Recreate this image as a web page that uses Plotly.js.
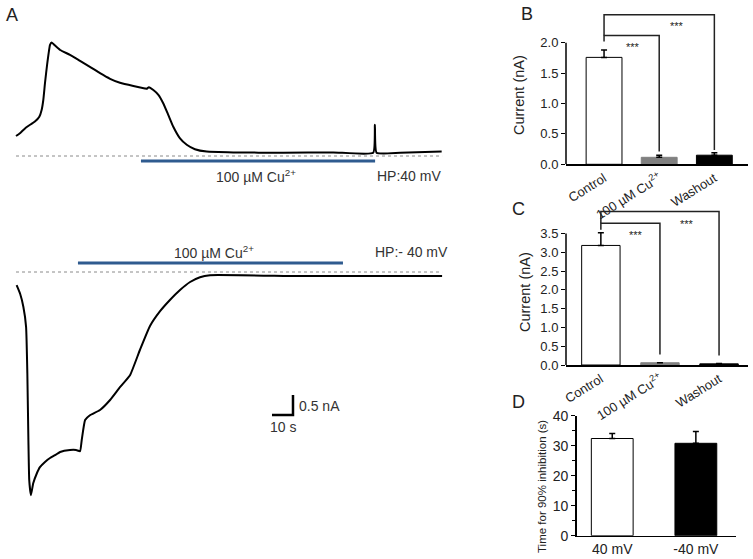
<!DOCTYPE html>
<html><head><meta charset="utf-8">
<script src="https://cdn.plot.ly/plotly-3.0.1.min.js"></script>
<style>html,body{margin:0;padding:0;background:#fff}#chart{width:753px;height:559px}</style>
</head><body><div id="chart"></div>
<script>
// ---------- Panel A: current traces (time in s, current in nA) ----------
const timeHP40 = [0,1.9,4.3,6.7,9.0,11.1,12.2,13.0,13.8,14.9,16.2,17.0,18.6,21.0,25.7,30.5,35.2,40.0,44.8,49.5,55.9,61.4,62.2,63.3,65.4,67.8,70.1,72.5,74.9,78.1,81.3,85.2,90.8,103.5,127.3,151.1,170.1,170.9,171.7,182.9,202.7];
const currentHP40 = [0.50,0.57,0.69,0.78,0.86,0.98,1.15,1.40,1.82,2.32,2.78,2.84,2.76,2.65,2.53,2.38,2.23,2.07,1.93,1.83,1.75,1.69,1.68,1.72,1.65,1.53,1.32,1.03,0.73,0.44,0.28,0.17,0.11,0.09,0.08,0.09,0.08,0.78,0.08,0.08,0.11];

const timeHPm40 = [0.3,2.0,3.5,4.8,5.4,5.9,6.3,7.1,8.2,9.8,11.4,13.8,16.2,18.6,21.0,25.7,28.6,30.5,31.3,32.9,35.2,40,44.8,49.5,54.3,59,63.8,68.6,73.3,78.1,82.9,87.6,92.4,135,202.9];
const currentHPm40 = [-0.33,-0.55,-0.87,-1.37,-2.53,-4.2,-5.2,-5.58,-5.28,-5.05,-4.88,-4.75,-4.65,-4.58,-4.5,-4.45,-4.45,-4.48,-4.2,-3.7,-3.58,-3.45,-3.2,-2.88,-2.58,-1.95,-1.35,-0.98,-0.70,-0.45,-0.25,-0.13,-0.08,-0.10,-0.10];

const baselineTime = [0, 202.9];
const baselineCurrent = [0, 0];
const cuApplyHP40 = [59.5, 171];     // s, application of 100 µM Cu2+
const cuApplyHPm40 = [29.5, 155.7];
const scaleBarTime = [121.9, 131.9, 131.9];       // 10 s
const scaleBarCurrent = [-3.575, -3.575, -3.075]; // 0.5 nA

// ---------- Panel B / C ----------
const groupsBC = ['Control', '100 µM Cu<sup>2+</sup>', 'Washout'];
const currentB = [1.76, 0.115, 0.15];
const semB = [0.12, 0.035, 0.04];
const currentC = [3.18, 0.06, 0.03];
const semC = [0.34, 0.0, 0.01];
const barColorsBC = ['#ffffff', '#808080', '#000000'];

// ---------- Panel D ----------
const groupsD = ['40 mV', '-40 mV'];
const timeD = [32.4, 30.8];
const semD = [1.7, 3.9];
const barColorsD = ['#ffffff', '#000000'];

// ---------- layout helpers ----------
const W = 753, H = 559;
const px = x => x / W;
const py = y => 1 - y / H;
const FONT = 'Liberation Sans, Arial, Helvetica, sans-serif';
const BLUE = '#2f5b8f';

const traces = [];
traces.push({x: baselineTime, y: baselineCurrent, xaxis:'x', yaxis:'y', mode:'lines', line:{color:'#8a8a8a', width:1, dash:'3px,3px'}});
traces.push({x: baselineTime, y: baselineCurrent, xaxis:'x2', yaxis:'y2', mode:'lines', line:{color:'#8a8a8a', width:1, dash:'3px,3px'}});
traces.push({x: cuApplyHP40, y: [-0.125, -0.125], xaxis:'x', yaxis:'y', mode:'lines', line:{color:BLUE, width:3}});
traces.push({x: cuApplyHPm40, y: [0.225, 0.225], xaxis:'x2', yaxis:'y2', mode:'lines', line:{color:BLUE, width:3}});
traces.push({x: timeHP40, y: currentHP40, xaxis:'x', yaxis:'y', mode:'lines', line:{color:'#000', width:2, shape:'spline', smoothing:0.4}});
traces.push({x: timeHPm40, y: currentHPm40, xaxis:'x2', yaxis:'y2', mode:'lines', line:{color:'#000', width:2, shape:'spline', smoothing:0.4}});
traces.push({x: scaleBarTime, y: scaleBarCurrent, xaxis:'x2', yaxis:'y2', mode:'lines', line:{color:'#000', width:2.5}});

// Panel B
traces.push({type:'bar', x: groupsBC, y: currentB, xaxis:'x3', yaxis:'y3', width:0.65,
  marker:{color: barColorsBC, line:{color:['#000','#808080','#000'], width:1}},
  error_y:{type:'data', symmetric:false, array: semB, arrayminus:[0,0,0], color:'#000', thickness:1.5, width:3}});
traces.push({x:[groupsBC[0],groupsBC[0],groupsBC[1],groupsBC[1]], y:[2.02,2.12,2.12,0.21], xaxis:'x3', yaxis:'y3', mode:'lines', line:{color:'#222', width:1.5}});
traces.push({x:[groupsBC[0],groupsBC[0],groupsBC[2],groupsBC[2]], y:[2.12,2.46,2.46,0.235], xaxis:'x3', yaxis:'y3', mode:'lines', line:{color:'#222', width:1.5}});

// Panel C
traces.push({type:'bar', x: groupsBC, y: currentC, xaxis:'x4', yaxis:'y4', width:0.65,
  marker:{color: barColorsBC, line:{color:['#000','#808080','#000'], width:1}},
  error_y:{type:'data', symmetric:false, array: semC, arrayminus:[0,0,0], color:'#000', thickness:1.5, width:3}});
traces.push({x:[groupsBC[0],groupsBC[0],groupsBC[1],groupsBC[1]], y:[3.6,3.77,3.77,0.28], xaxis:'x4', yaxis:'y4', mode:'lines', line:{color:'#222', width:1.5}});
traces.push({x:[groupsBC[0],groupsBC[0],groupsBC[2],groupsBC[2]], y:[3.77,4.08,4.08,0.25], xaxis:'x4', yaxis:'y4', mode:'lines', line:{color:'#222', width:1.5}});

// Panel D
traces.push({type:'bar', x: groupsD, y: timeD, xaxis:'x5', yaxis:'y5', width:0.5,
  marker:{color: barColorsD, line:{color:'#000', width:1}},
  error_y:{type:'data', symmetric:false, array: semD, arrayminus:[0,0], color:'#000', thickness:1.5, width:3}});

const tA = p => (p - 16) / 2.1;
const hidden = {visible:false, fixedrange:true};

const barY = (extra) => Object.assign({
  showline:false, zeroline:false, showgrid:false, ticks:'outside', ticklen:4, tickwidth:1, tickcolor:'#000',
  tickfont:{size:13, color:'#222', family:FONT}, fixedrange:true
}, extra);
const barX = (extra) => Object.assign({
  type:'category', showline:true, linecolor:'#000', linewidth:1.5, ticks:'', showgrid:false, zeroline:false,
  tickfont:{size:13, color:'#222', family:FONT}, fixedrange:true
}, extra);

const paperText = (text, x, y, size, extra) => Object.assign({
  text, xref:'paper', yref:'paper', x:px(x), y:py(y), xanchor:'center', yanchor:'middle',
  showarrow:false, font:{size, color:'#222', family:FONT}
}, extra || {});

const layout = {
  width: W, height: H, margin:{l:0, r:0, t:0, b:0}, showlegend:false,
  paper_bgcolor:'#fff', plot_bgcolor:'rgba(0,0,0,0)',
  font:{family:FONT, color:'#222'},
  xaxis: Object.assign({domain:[0, px(460)], range:[tA(0), tA(460)], anchor:'y'}, hidden),
  yaxis: Object.assign({domain:[py(200), py(20)], range:[-1.1, 3.4], anchor:'x'}, hidden),
  xaxis2: Object.assign({domain:[0, px(460)], range:[tA(0), tA(460)], anchor:'y2'}, hidden),
  yaxis2: Object.assign({domain:[py(550), py(230)], range:[-6.95, 1.05], anchor:'x2'}, hidden),

  xaxis3: barX({domain:[px(566), px(748)], range:[-0.69, 2.61], anchor:'y3', tickangle:-32}),
  yaxis3: barY({domain:[py(164.3), py(10)], range:[0, 2.54], anchor:'x3', tickvals:[0,0.5,1,1.5,2], ticktext:['0.0','0.5','1.0','1.5','2.0']}),
  xaxis4: barX({domain:[px(566), px(748)], range:[-0.59, 2.49], anchor:'y4', tickangle:-32}),
  yaxis4: barY({domain:[py(365), py(207.1)], range:[0, 4.2], anchor:'x4', tickvals:[0,0.5,1,1.5,2,2.5,3,3.5], ticktext:['0.0','0.5','1.0','1.5','2.0','2.5','3.0','3.5']}),
  xaxis5: barX({domain:[px(576.7), px(736)], range:[-0.425, 1.48], anchor:'y5', tickangle:0, tickfont:{size:14, color:'#222', family:FONT}}),
  yaxis5: barY({domain:[py(535.7), py(415.7)], range:[0, 40], anchor:'x5', showline:true, linecolor:'#000', linewidth:1.5, tickvals:[0,10,20,30,40],
     tickfont:{size:14, color:'#222', family:FONT},
     minor:{tickvals:[5,15,25,35], ticks:'outside', ticklen:3, tickcolor:'#000'}}),

  shapes: [
    {type:'line', xref:'paper', yref:'y3', x0:px(566), x1:px(566), y0:0, y1:2.0, line:{color:'#000', width:1.5}},
    {type:'line', xref:'paper', yref:'y4', x0:px(566), x1:px(566), y0:0, y1:3.5, line:{color:'#000', width:1.5}}
  ],
  annotations: [
    paperText('A', 12, 15, 18),
    paperText('B', 527, 14, 18),
    paperText('C', 518, 209, 18),
    paperText('D', 518, 402, 18),
    {text:'100 µM Cu<sup>2+</sup>', xref:'x', yref:'y', x:114.3, y:-0.5, xanchor:'center', yanchor:'middle', showarrow:false, font:{size:14, color:'#333'}},
    {text:'HP:40 mV', xref:'x', yref:'y', x:171, y:-0.5, xanchor:'left', yanchor:'middle', showarrow:false, font:{size:14, color:'#333'}},
    {text:'100 µM Cu<sup>2+</sup>', xref:'x2', yref:'y2', x:94.3, y:0.5, xanchor:'center', yanchor:'middle', showarrow:false, font:{size:14, color:'#333'}},
    {text:'HP:- 40 mV', xref:'x2', yref:'y2', x:170, y:0.5, xanchor:'left', yanchor:'middle', showarrow:false, font:{size:14, color:'#333'}},
    {text:'0.5 nA', xref:'x2', yref:'y2', x:133.6, y:-3.35, xanchor:'left', yanchor:'middle', showarrow:false, font:{size:14, color:'#333'}},
    {text:'10 s', xref:'x2', yref:'y2', x:127.1, y:-3.87, xanchor:'center', yanchor:'middle', showarrow:false, font:{size:14, color:'#333'}},
    paperText('Current (nA)', 519, 95, 14.5, {textangle:-90}),
    paperText('Current (nA)', 525, 292, 14.5, {textangle:-90}),
    paperText('Time for 90% inhibition (s)', 542, 487, 11.5, {textangle:-90}),
    {text:'***', xref:'x3', yref:'y3', x:0.53, y:2.07, xanchor:'center', yanchor:'top', showarrow:false, font:{size:11, color:'#222'}},
    {text:'***', xref:'x3', yref:'y3', x:1.33, y:2.41, xanchor:'center', yanchor:'top', showarrow:false, font:{size:11, color:'#222'}},
    {text:'***', xref:'x4', yref:'y4', x:0.6, y:3.67, xanchor:'center', yanchor:'top', showarrow:false, font:{size:11, color:'#222'}},
    {text:'***', xref:'x4', yref:'y4', x:1.45, y:3.97, xanchor:'center', yanchor:'top', showarrow:false, font:{size:11, color:'#222'}}
  ]
};

Plotly.newPlot('chart', traces, layout, {displayModeBar:false, staticPlot:true});
</script>
</body></html>
